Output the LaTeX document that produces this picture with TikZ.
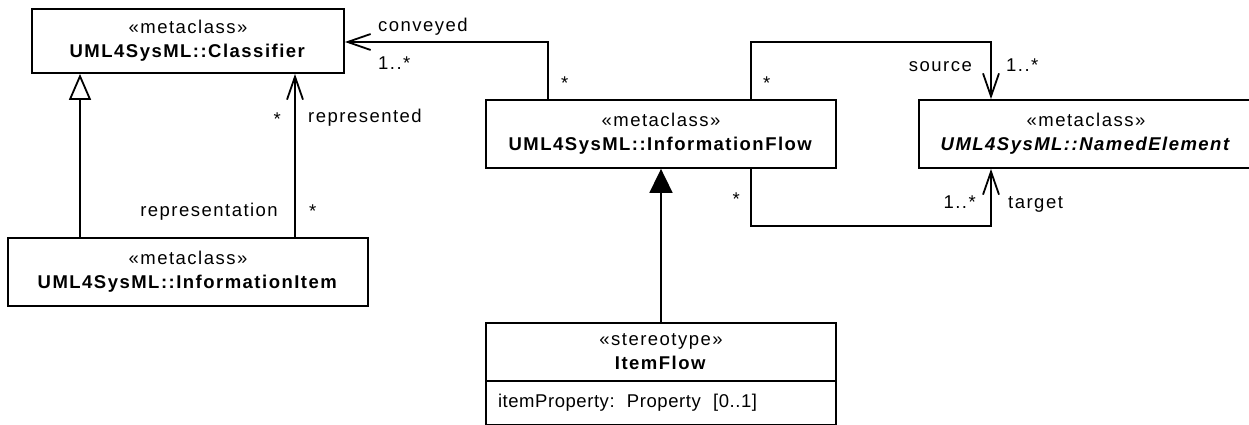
\documentclass[tikz,border=0pt]{standalone}
\usepackage{fontspec}
\setmainfont{Liberation Sans}[LetterSpace=8]
\usetikzlibrary{arrows.meta,positioning}

\begin{document}
\begin{tikzpicture}[
  x=1pt, y=-1pt,
  font=\fontsize{18.5pt}{24pt}\selectfont,
  classbox/.style={draw, line width=1.8pt, fill=white, align=center, inner sep=0pt},
  assoc/.style={line width=1.8pt, -{Straight Barb[length=23pt, width=16pt]}},
  genopen/.style={line width=1.8pt, -{Triangle[open, length=26pt, width=22pt]}},
  genfilled/.style={line width=1.8pt, -{Triangle[length=24pt, width=23pt]}},
  rolelabel/.style={inner sep=0pt, anchor=base west},
  roleleft/.style={inner sep=0pt, anchor=base east}
]
\useasboundingbox (0,0) rectangle (1249,425);
\node[classbox, minimum width=312pt, minimum height=64pt] (classifier) at (188,41) {«metaclass»\\\textbf{UML4SysML::Classifier}};
\node[classbox, minimum width=360pt, minimum height=68pt] (infoitem) at (188,272) {«metaclass»\\\textbf{UML4SysML::InformationItem}};
\node[classbox, minimum width=350pt, minimum height=68pt] (infoflow) at (661,134) {«metaclass»\\\textbf{UML4SysML::InformationFlow}};
\node[classbox, minimum width=334pt, minimum height=68pt] (named) at (1086,134) {«metaclass»\\\textbf{\itshape UML4SysML::NamedElement}};
\node[classbox, minimum width=350pt, minimum height=58pt] (itemflow) at (661,352) {«stereotype»\\\textbf{ItemFlow}};
\node[classbox, minimum width=350pt, minimum height=44pt, text width=326pt, align=left, below=-1.8pt of itemflow] (itemattr) {\addfontfeature{LetterSpace=3}itemProperty:\ \ Property\ \ [0..1]};
\draw[genopen] ([xshift=-108pt]infoitem.north) -- ([xshift=-108pt]classifier.south);
\draw[assoc] ([xshift=107pt]infoitem.north) -- ([xshift=107pt]classifier.south);
\draw[assoc] ([xshift=-113pt]infoflow.north) |- ([yshift=-1pt]classifier.east);
\draw[assoc] ([xshift=90pt]infoflow.north) -- ++(0,-57) -| ([xshift=-95pt]named.north);
\draw[assoc] ([xshift=90pt]infoflow.south) -- ++(0,57) -| ([xshift=-95pt]named.south);
\draw[genfilled] (itemflow.north) -- (infoflow.south);
\node[rolelabel] (convname) at (378,32) {conveyed};
\node[rolelabel] (convmult) at (378,70) {1..*};
\node[rolelabel] (convstar) at (561,90) {*};
\node[rolelabel] (srcstar) at (763,90) {*};
\node[roleleft] (srcname) at (972,72) {source};
\node[rolelabel] (srcmult) at (1006,72) {1..*};
\node[roleleft] (tgtstar) at (740,205) {*};
\node[roleleft] (tgtmult) at (976,208) {1..*};
\node[rolelabel] (tgtname) at (1008,208) {target};
\node[roleleft] (repstar) at (281,125) {*};
\node[rolelabel] (repname) at (308,123) {represented};
\node[roleleft] (reprname) at (278,216) {representation};
\node[rolelabel] (reprstar) at (309,217) {*};
\end{tikzpicture}
\end{document}
